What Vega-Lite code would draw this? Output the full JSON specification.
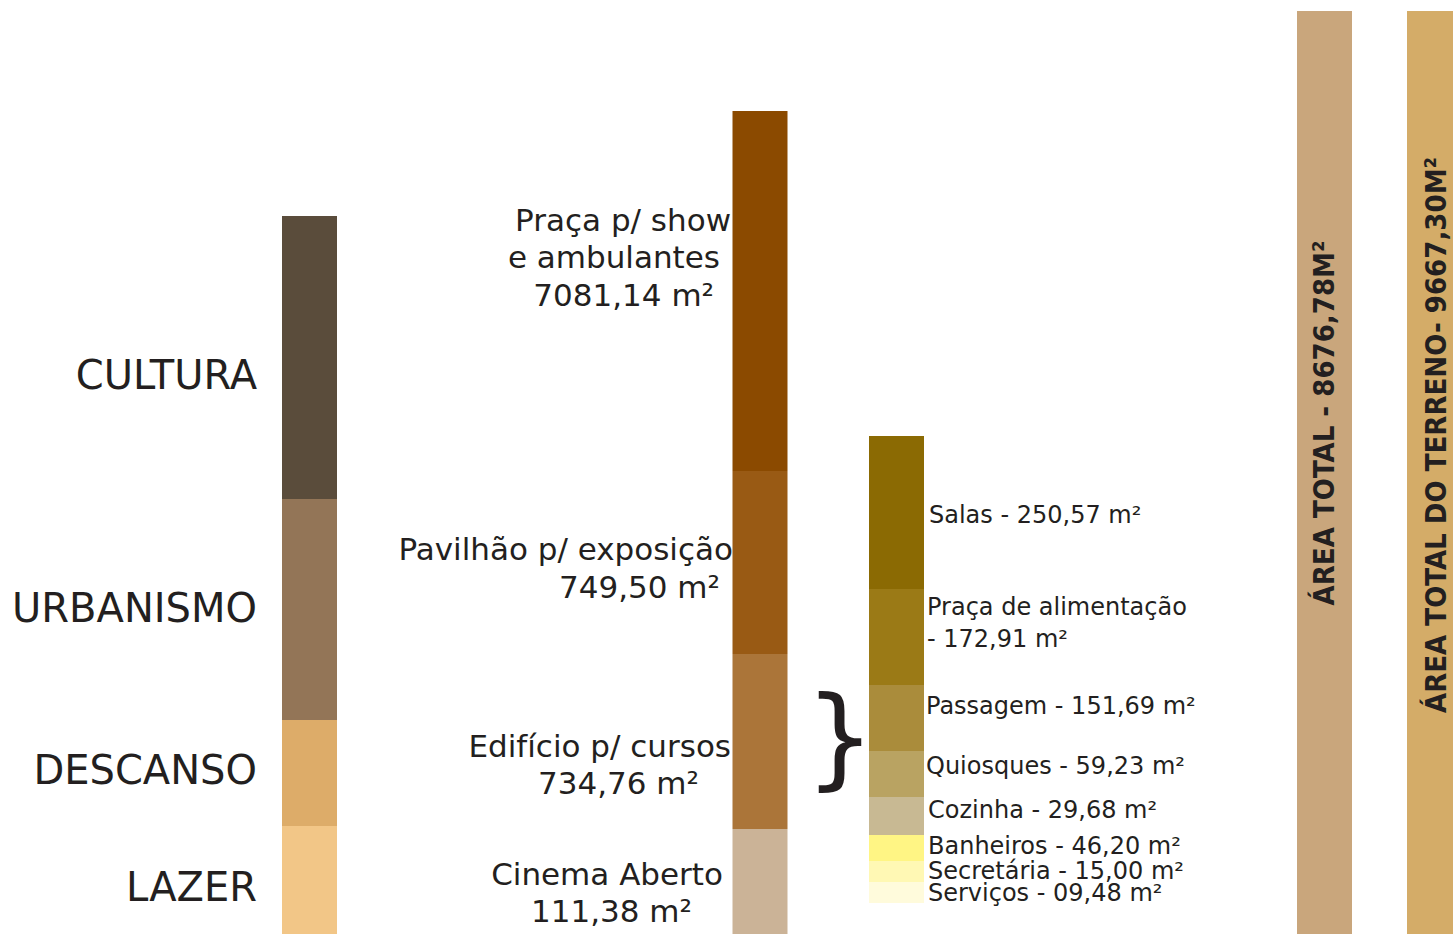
{
  "$schema": "https://vega.github.io/schema/vega-lite/v6.json",
  "width": 1453,
  "height": 934,
  "padding": 0,
  "autosize": {"type": "none"},
  "background": "white",
  "config": {"view": {"stroke": null}, "text": {"font": "DejaVu Sans", "color": "#231f20"}},
  "datasets": {
    "bars": [
      {"bar": "categorias", "x_pos": 309.5, "segment": "LAZER", "rank": 1, "h": 108},
      {"bar": "categorias", "x_pos": 309.5, "segment": "DESCANSO", "rank": 2, "h": 106},
      {"bar": "categorias", "x_pos": 309.5, "segment": "URBANISMO", "rank": 3, "h": 221},
      {"bar": "categorias", "x_pos": 309.5, "segment": "CULTURA", "rank": 4, "h": 283},
      {"bar": "espacos", "x_pos": 760, "segment": "Cinema Aberto", "area": 111.38, "rank": 1, "h": 105},
      {"bar": "espacos", "x_pos": 760, "segment": "Edifício p/ cursos", "area": 734.76, "rank": 2, "h": 175},
      {"bar": "espacos", "x_pos": 760, "segment": "Pavilhão p/ exposição", "area": 749.50, "rank": 3, "h": 183},
      {"bar": "espacos", "x_pos": 760, "segment": "Praça p/ show e ambulantes", "area": 7081.14, "rank": 4, "h": 360},
      {"bar": "edificio", "x_pos": 896.5, "segment": "base", "rank": 0, "h": 31},
      {"bar": "edificio", "x_pos": 896.5, "segment": "Serviços", "area": 9.48, "rank": 1, "h": 21},
      {"bar": "edificio", "x_pos": 896.5, "segment": "Secretária", "area": 15.00, "rank": 2, "h": 21},
      {"bar": "edificio", "x_pos": 896.5, "segment": "Banheiros", "area": 46.20, "rank": 3, "h": 26},
      {"bar": "edificio", "x_pos": 896.5, "segment": "Cozinha", "area": 29.68, "rank": 4, "h": 38},
      {"bar": "edificio", "x_pos": 896.5, "segment": "Quiosques", "area": 59.23, "rank": 5, "h": 46},
      {"bar": "edificio", "x_pos": 896.5, "segment": "Passagem", "area": 151.69, "rank": 6, "h": 66},
      {"bar": "edificio", "x_pos": 896.5, "segment": "Praça de alimentação", "area": 172.91, "rank": 7, "h": 96},
      {"bar": "edificio", "x_pos": 896.5, "segment": "Salas", "area": 250.57, "rank": 8, "h": 153},
      {"bar": "total", "x_pos": 1324.5, "segment": "Área total", "area": 8676.78, "rank": 1, "h": 923},
      {"bar": "terreno", "x_pos": 1434.5, "segment": "Área total do terreno", "area": 9667.30, "rank": 1, "h": 923}
    ],
    "labels": [
      {"group": "categoria", "t": "CULTURA", "x": 257, "y": 557},
      {"group": "categoria", "t": "URBANISMO", "x": 257, "y": 324},
      {"group": "categoria", "t": "DESCANSO", "x": 257, "y": 162},
      {"group": "categoria", "t": "LAZER", "x": 257, "y": 45},
      {"group": "espaco", "t": "Praça p/ show", "x": 731, "y": 712},
      {"group": "espaco", "t": "e ambulantes", "x": 720, "y": 675},
      {"group": "espaco", "t": "7081,14 m²", "x": 714, "y": 637},
      {"group": "espaco", "t": "Pavilhão p/ exposição", "x": 733, "y": 383},
      {"group": "espaco", "t": "749,50 m²", "x": 720, "y": 345},
      {"group": "espaco", "t": "Edifício p/ cursos", "x": 731, "y": 186},
      {"group": "espaco", "t": "734,76 m²", "x": 699, "y": 149},
      {"group": "espaco", "t": "Cinema Aberto", "x": 723, "y": 58},
      {"group": "espaco", "t": "111,38 m²", "x": 692, "y": 21},
      {"group": "sala", "t": "Salas - 250,57 m²", "x": 929, "y": 418},
      {"group": "sala", "t": "Praça de alimentação", "x": 927, "y": 326},
      {"group": "sala", "t": " - 172,91 m²", "x": 927, "y": 294},
      {"group": "sala", "t": "Passagem - 151,69 m²", "x": 926, "y": 227},
      {"group": "sala", "t": "Quiosques - 59,23 m²", "x": 926, "y": 167},
      {"group": "sala", "t": "Cozinha - 29,68 m²", "x": 928, "y": 123},
      {"group": "sala", "t": "Banheiros - 46,20 m²", "x": 928, "y": 87},
      {"group": "sala", "t": "Secretária - 15,00 m²", "x": 928, "y": 62},
      {"group": "sala", "t": "Serviços - 09,48 m²", "x": 928, "y": 40},
      {"group": "total", "t": "ÁREA TOTAL - 8676,78M²", "x": 1325, "y": 511},
      {"group": "total", "t": "ÁREA TOTAL DO TERRENO- 9667,30M²", "x": 1437, "y": 499},
      {"group": "chave", "t": "}", "x": 840, "y": 192}
    ]
  },
  "layer": [
    {
      "data": {"name": "bars"},
      "transform": [
        {"stack": "h", "groupby": ["bar"], "sort": [{"field": "rank", "order": "ascending"}], "as": ["y0", "y1"]}
      ],
      "mark": {"type": "bar", "width": 55, "orient": "vertical", "clip": true},
      "encoding": {
        "x": {"field": "x_pos", "type": "quantitative", "scale": {"domain": [0, 1453], "nice": false, "zero": false, "padding": 0}, "axis": null},
        "y": {"field": "y0", "type": "quantitative", "scale": {"domain": [0, 934], "nice": false, "zero": false, "padding": 0}, "axis": null},
        "y2": {"field": "y1"},
        "color": {
          "field": "segment",
          "type": "nominal",
          "legend": null,
          "scale": {
            "domain": ["LAZER", "DESCANSO", "URBANISMO", "CULTURA", "Cinema Aberto", "Edifício p/ cursos", "Pavilhão p/ exposição", "Praça p/ show e ambulantes", "base", "Serviços", "Secretária", "Banheiros", "Cozinha", "Quiosques", "Passagem", "Praça de alimentação", "Salas", "Área total", "Área total do terreno"],
            "range": ["#f2c687", "#ddac69", "#937557", "#5a4c3b", "#cbb397", "#ab7539", "#995a14", "#8b4a00", "transparent", "#fffbdc", "#fff8b4", "#fff584", "#c8b993", "#b9a362", "#aa8c3b", "#9b7a16", "#8b6a03", "#c9a67c", "#d4ac68"]
          }
        }
      }
    },
    {
      "data": {"name": "labels"},
      "transform": [{"filter": "datum.group === 'categoria'"}],
      "mark": {"type": "text", "align": "right", "baseline": "middle", "fontSize": 40},
      "encoding": {
        "x": {"field": "x", "type": "quantitative", "scale": {"domain": [0, 1453], "nice": false, "zero": false, "padding": 0}, "axis": null},
        "y": {"field": "y", "type": "quantitative", "scale": {"domain": [0, 934], "nice": false, "zero": false, "padding": 0}, "axis": null},
        "text": {"field": "t"}
      }
    },
    {
      "data": {"name": "labels"},
      "transform": [{"filter": "datum.group === 'espaco'"}],
      "mark": {"type": "text", "align": "right", "baseline": "middle", "fontSize": 31},
      "encoding": {
        "x": {"field": "x", "type": "quantitative", "scale": {"domain": [0, 1453], "nice": false, "zero": false, "padding": 0}, "axis": null},
        "y": {"field": "y", "type": "quantitative", "scale": {"domain": [0, 934], "nice": false, "zero": false, "padding": 0}, "axis": null},
        "text": {"field": "t"}
      }
    },
    {
      "data": {"name": "labels"},
      "transform": [{"filter": "datum.group === 'sala'"}],
      "mark": {"type": "text", "align": "left", "baseline": "middle", "fontSize": 24},
      "encoding": {
        "x": {"field": "x", "type": "quantitative", "scale": {"domain": [0, 1453], "nice": false, "zero": false, "padding": 0}, "axis": null},
        "y": {"field": "y", "type": "quantitative", "scale": {"domain": [0, 934], "nice": false, "zero": false, "padding": 0}, "axis": null},
        "text": {"field": "t"}
      }
    },
    {
      "data": {"name": "labels"},
      "transform": [{"filter": "datum.group === 'total'"}],
      "mark": {"type": "text", "align": "center", "baseline": "middle", "fontSize": 29, "fontWeight": "bold", "angle": 270, "font": "DejaVu Sans Condensed, Liberation Sans Narrow, Roboto, sans-serif"},
      "encoding": {
        "x": {"field": "x", "type": "quantitative", "scale": {"domain": [0, 1453], "nice": false, "zero": false, "padding": 0}, "axis": null},
        "y": {"field": "y", "type": "quantitative", "scale": {"domain": [0, 934], "nice": false, "zero": false, "padding": 0}, "axis": null},
        "text": {"field": "t"}
      }
    },
    {
      "data": {"name": "labels"},
      "transform": [{"filter": "datum.group === 'chave'"}],
      "mark": {"type": "text", "align": "center", "baseline": "middle", "fontSize": 110},
      "encoding": {
        "x": {"field": "x", "type": "quantitative", "scale": {"domain": [0, 1453], "nice": false, "zero": false, "padding": 0}, "axis": null},
        "y": {"field": "y", "type": "quantitative", "scale": {"domain": [0, 934], "nice": false, "zero": false, "padding": 0}, "axis": null},
        "text": {"field": "t"}
      }
    }
  ]
}
